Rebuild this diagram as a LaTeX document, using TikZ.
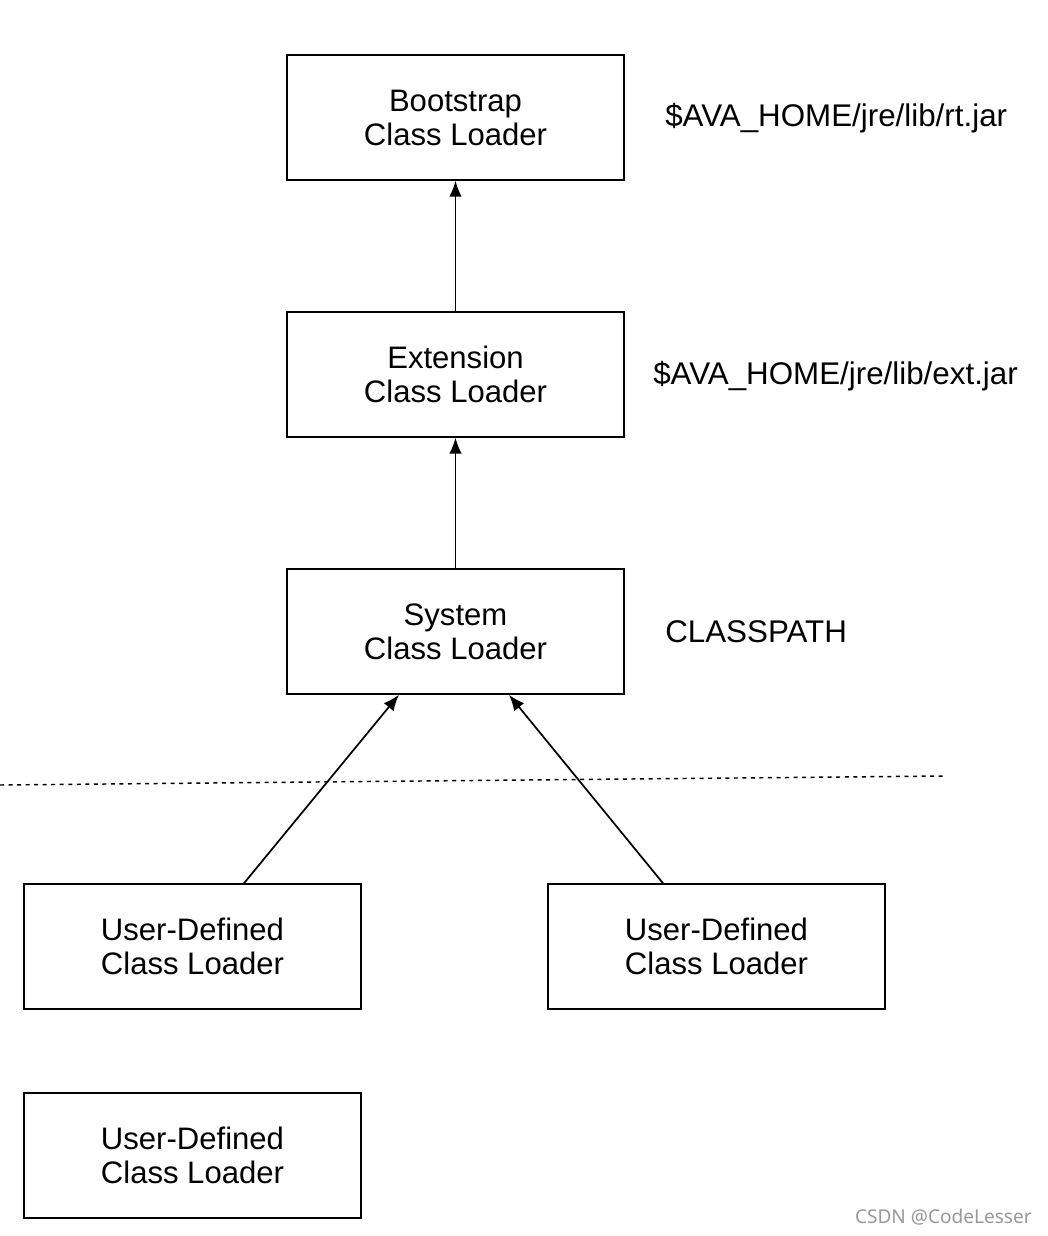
\documentclass[tikz,border=0pt]{standalone}
\usepackage{fontspec}
\setmainfont{Liberation Sans}
\newfontfamily\wmfont{Noto Sans}
\usetikzlibrary{arrows.meta}
\begin{document}
\begin{tikzpicture}[x=0.75pt,y=-0.75pt,
  loader/.style={draw=black,line width=1.1pt,minimum width=252.75pt,minimum height=93.75pt,inner sep=0pt,
    align=center,font=\fontsize{23.3}{25.5}\selectfont},
  pathlabel/.style={anchor=west,inner sep=0pt,font=\fontsize{23.5}{25.5}\selectfont},
  arr/.style={line width=1.3pt,-{Latex[length=12pt,width=9.5pt]}},
  sep/.style={line width=1.1pt,dash pattern=on 3pt off 3.4pt}]
\useasboundingbox[fill=white] (0,0) rectangle (1048,1236);
\node[loader] (boot) at (455.5,117.5) {Bootstrap\\Class Loader};
\node[loader] (ext) at (455.5,374.5) {Extension\\Class Loader};
\node[loader] (sys) at (455.5,631.5) {System\\Class Loader};
\node[loader] (ul) at (192.5,946.5) {User-Defined\\Class Loader};
\node[loader] (ur) at (716.5,946.5) {User-Defined\\Class Loader};
\node[loader] (bl) at (192.5,1155.5) {User-Defined\\Class Loader};
\node[pathlabel] (rt) at (665,118) {\$AVA\_HOME/jre/lib/rt.jar};
\node[pathlabel] (extjar) at (653,376) {\$AVA\_HOME/jre/lib/ext.jar};
\node[pathlabel] (cp) at (665,632) {CLASSPATH};
\coordinate (dl) at (0,785);
\coordinate (dr) at (945,776);
\draw[sep] (dl) -- (dr);
\draw[arr] (ext.north) -- (boot.south);
\draw[arr] (sys.north) -- (ext.south);
\draw[arr] ([xshift=38.6pt]ul.north) -- ([xshift=-42.4pt]sys.south);
\draw[arr] ([xshift=-40.1pt]ur.north) -- ([xshift=40.1pt]sys.south);
\node[anchor=east,inner sep=0pt,text=black!40,font=\wmfont\fontsize{14.3}{16}\selectfont] (wm) at (1032,1217) {CSDN @CodeLesser};
\end{tikzpicture}
\end{document}
